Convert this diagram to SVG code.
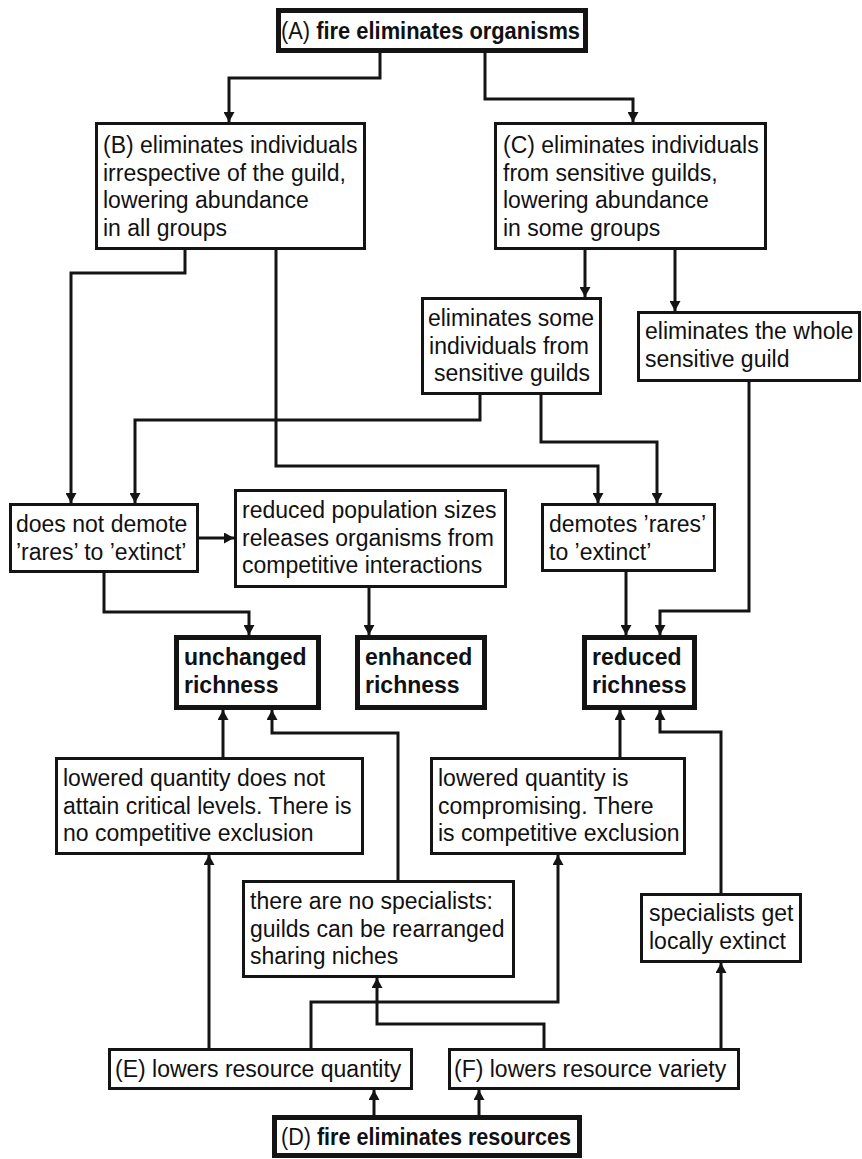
<svg xmlns="http://www.w3.org/2000/svg" width="862" height="1159" viewBox="0 0 862 1159">
<style>
.box{fill:#fff;stroke:#141414;stroke-width:3}
.thick{fill:#fff;stroke:#141414;stroke-width:5}
.c{fill:none;stroke:#141414;stroke-width:3;marker-end:url(#ah)}
text{font-family:"Liberation Sans",Arial,Helvetica,sans-serif;font-size:23px;fill:#111}
.b{font-weight:bold}
.m{text-anchor:middle}
</style>
<defs>
<marker id="ah" markerUnits="userSpaceOnUse" markerWidth="11" markerHeight="11" refX="10" refY="5.5" orient="auto">
<path d="M0,0 L10,5.5 L0,11 z" fill="#141414"/>
</marker>
</defs>
<rect x="0" y="0" width="862" height="1159" fill="#fff"/>
<g id="connectors">
<path class="c" d="M380,53 V78 H229 V122"/>
<path class="c" d="M485,53 V99 H633 V122"/>
<path class="c" d="M185,250 V273 H71 V503"/>
<path class="c" d="M276,250 V466 H598 V503"/>
<path class="c" d="M585,250 V297"/>
<path class="c" d="M675,250 V311"/>
<path class="c" d="M480,395 V420 H135 V503"/>
<path class="c" d="M541,395 V442 H657 V503"/>
<path class="c" d="M749,382 V611 H660 V635"/>
<path class="c" d="M199,538 H234"/>
<path class="c" d="M104,573 V612 H249 V635"/>
<path class="c" d="M369,588 V635"/>
<path class="c" d="M626,572 V635"/>
<path class="c" d="M223,757 V710"/>
<path class="c" d="M398,880 V733 H272 V710"/>
<path class="c" d="M620,757 V710"/>
<path class="c" d="M721,893 V732 H660 V710"/>
<path class="c" d="M209,1048 V855"/>
<path class="c" d="M311,1048 V1002 H558 V855"/>
<path class="c" d="M544,1048 V1024 H377 V978"/>
<path class="c" d="M721,1048 V963"/>
<path class="c" d="M374,1115 V1090"/>
<path class="c" d="M479,1115 V1090"/>
</g>
<g id="nodeA">
<rect class="thick" x="278.5" y="10.5" width="307" height="40"/>
<text x="281" y="39" textLength="299" lengthAdjust="spacingAndGlyphs">(A) <tspan class="b">fire eliminates organisms</tspan></text>
</g>
<g id="nodeB">
<rect class="box" x="96.5" y="123.5" width="268" height="125"/>
<text x="103" y="153"><tspan x="103">(B) eliminates individuals</tspan><tspan x="103" dy="27.5">irrespective of the guild,</tspan><tspan x="103" dy="27.5">lowering abundance</tspan><tspan x="103" dy="27.5">in all groups</tspan></text>
</g>
<g id="nodeC">
<rect class="box" x="495.5" y="123.5" width="270" height="125"/>
<text x="503" y="153"><tspan x="503">(C) eliminates individuals</tspan><tspan x="503" dy="27.5">from sensitive guilds,</tspan><tspan x="503" dy="27.5">lowering abundance</tspan><tspan x="503" dy="27.5">in some groups</tspan></text>
</g>
<g id="nodeSome">
<rect class="box" x="422.5" y="298.5" width="178" height="95"/>
<text class="m" x="511" y="326"><tspan x="511">eliminates some</tspan><tspan x="509" dy="27.5">individuals from</tspan><tspan x="512" dy="27.5">sensitive guilds</tspan></text>
</g>
<g id="nodeWhole">
<rect class="box" x="638.5" y="312.5" width="221" height="68"/>
<text x="645" y="339"><tspan x="645">eliminates the whole</tspan><tspan x="645" dy="27.5">sensitive guild</tspan></text>
</g>
<g id="nodeNotDemote">
<rect class="box" x="10.5" y="504.5" width="187" height="67"/>
<text x="16" y="532"><tspan x="16">does not demote</tspan><tspan x="16" dy="27.5">’rares’ to ’extinct’</tspan></text>
</g>
<g id="nodeReducedPop">
<rect class="box" x="235.5" y="490.5" width="270" height="96"/>
<text x="242" y="518"><tspan x="242">reduced population sizes</tspan><tspan x="242" dy="27.5">releases organisms from</tspan><tspan x="242" dy="27.5">competitive interactions</tspan></text>
</g>
<g id="nodeDemotes">
<rect class="box" x="542.5" y="504.5" width="172" height="66"/>
<text x="549" y="532"><tspan x="549">demotes ’rares’</tspan><tspan x="549" dy="27.5">to ’extinct’</tspan></text>
</g>
<g id="nodeUnchanged">
<rect class="thick" x="176.5" y="637.5" width="142" height="70"/>
<text class="b" x="184" y="665"><tspan x="184">unchanged</tspan><tspan x="184" dy="28">richness</tspan></text>
</g>
<g id="nodeEnhanced">
<rect class="thick" x="357.5" y="637.5" width="127" height="70"/>
<text class="b" x="365" y="665"><tspan x="365">enhanced</tspan><tspan x="365" dy="28">richness</tspan></text>
</g>
<g id="nodeReduced">
<rect class="thick" x="584.5" y="637.5" width="110" height="70"/>
<text class="b" x="592" y="665"><tspan x="592">reduced</tspan><tspan x="592" dy="28">richness</tspan></text>
</g>
<g id="nodeLoweredNot">
<rect class="box" x="56.5" y="758.5" width="306" height="95"/>
<text x="63" y="786"><tspan x="63">lowered quantity does not</tspan><tspan x="63" dy="27.5">attain critical levels. There is</tspan><tspan x="63" dy="27.5">no competitive exclusion</tspan></text>
</g>
<g id="nodeLoweredIs">
<rect class="box" x="431.5" y="758.5" width="253" height="95"/>
<text x="438" y="786"><tspan x="438">lowered quantity is</tspan><tspan x="438" dy="27.5">compromising. There</tspan><tspan x="438" dy="27.5">is competitive exclusion</tspan></text>
</g>
<g id="nodeNoSpecialists">
<rect class="box" x="243.5" y="881.5" width="270" height="95"/>
<text x="250" y="909"><tspan x="250">there are no specialists:</tspan><tspan x="250" dy="27.5">guilds can be rearranged</tspan><tspan x="250" dy="27.5">sharing niches</tspan></text>
</g>
<g id="nodeSpecialists">
<rect class="box" x="641.5" y="894.5" width="159" height="67"/>
<text x="649" y="921"><tspan x="649">specialists get</tspan><tspan x="649" dy="27.5">locally extinct</tspan></text>
</g>
<g id="nodeE">
<rect class="box" x="109.5" y="1049.5" width="302" height="39"/>
<text x="115" y="1077">(E) lowers resource quantity</text>
</g>
<g id="nodeF">
<rect class="box" x="449.5" y="1049.5" width="289" height="39"/>
<text x="454" y="1077">(F) lowers resource variety</text>
</g>
<g id="nodeD">
<rect class="thick" x="274.5" y="1117.5" width="305" height="38"/>
<text x="281" y="1145" textLength="290" lengthAdjust="spacingAndGlyphs">(D) <tspan class="b">fire eliminates resources</tspan></text>
</g>
</svg>
